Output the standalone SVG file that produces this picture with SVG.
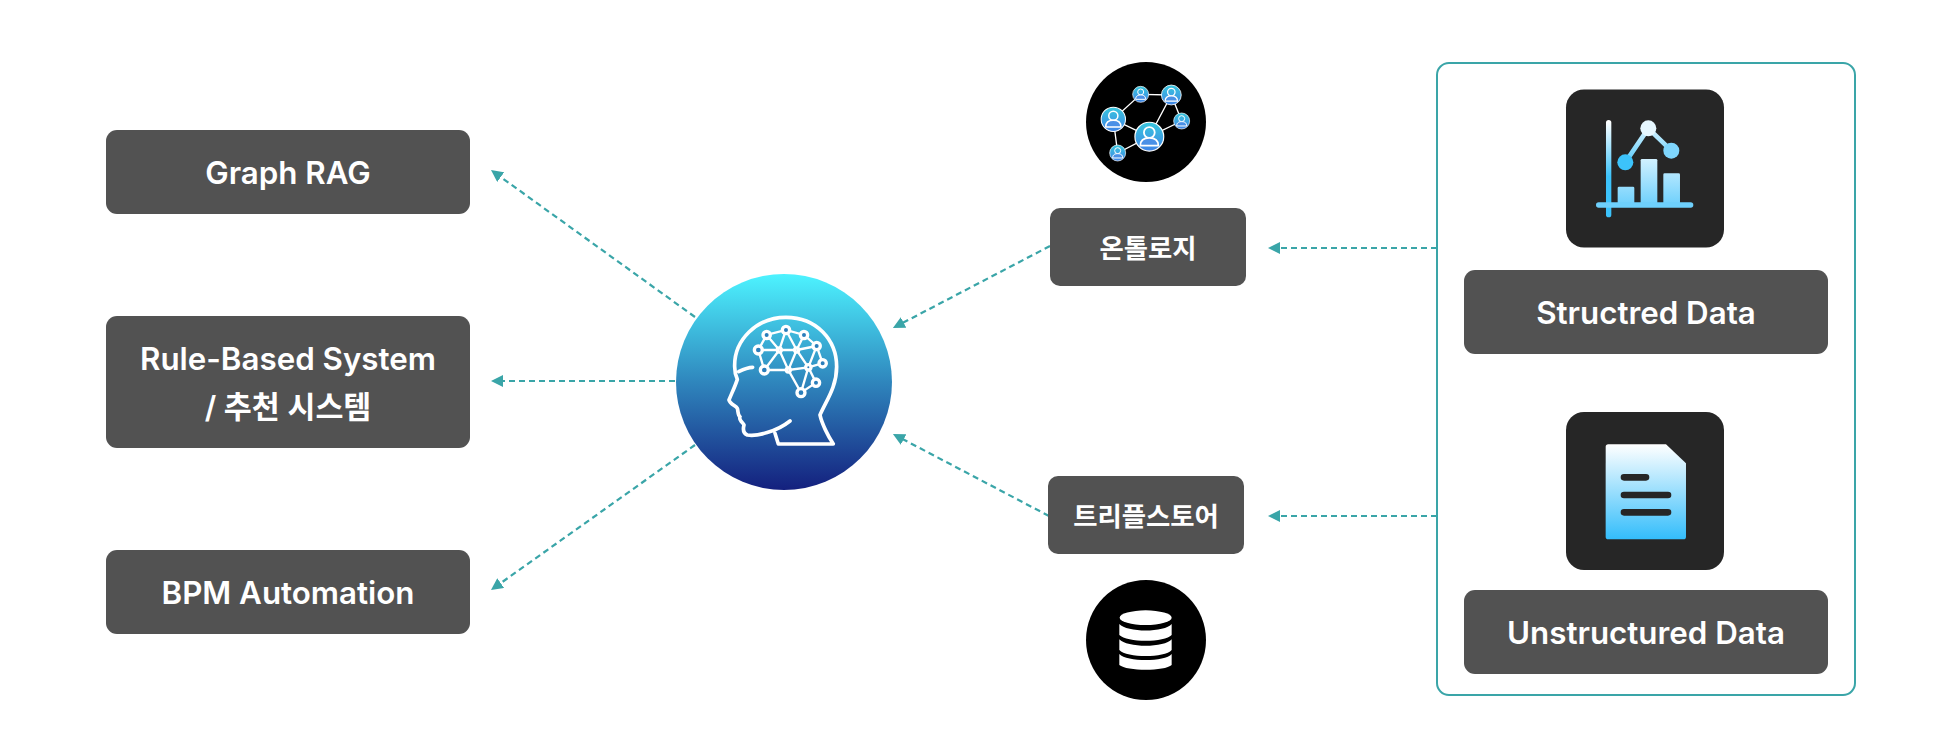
<svg xmlns="http://www.w3.org/2000/svg" xmlns:xlink="http://www.w3.org/1999/xlink" width="1960" height="730" viewBox="0 0 1960 730">
<style>
.box{fill:#525252}
.tile{fill:#262626}
.lbl{font-family:"Inter","Noto Sans CJK KR","Noto Sans",sans-serif;font-weight:600;font-size:31.3px;fill:#fff;text-anchor:middle}
.ko{font-family:"Noto Sans CJK KR","Inter",sans-serif;font-weight:600;font-size:26.4px;fill:#fff;text-anchor:middle}
.conn{fill:none;stroke:#3aa5a8;stroke-width:2.2;stroke-dasharray:6 4}
.head{fill:none;stroke:#fff;stroke-width:11;stroke-linecap:round;stroke-linejoin:round}
.edge{fill:none;stroke:#fff;stroke-width:7;stroke-linecap:round}
.node{fill:#2a7ebb;stroke:#fff;stroke-width:10}
.net{stroke:#fff;stroke-width:4;fill:none}
.docline{fill:none;stroke:#262626;stroke-width:20;stroke-linecap:round}
</style>
<defs>
<linearGradient id="gc" x1="0" y1="0" x2="0" y2="1"><stop offset="0" stop-color="#4df3ff"/><stop offset=".5" stop-color="#2f86bd"/><stop offset="1" stop-color="#14207e"/></linearGradient>
<linearGradient id="gp" x1="0" y1="0" x2="0" y2="1"><stop offset="0" stop-color="#38c8de"/><stop offset="1" stop-color="#3f83e6"/></linearGradient>
<linearGradient id="gw" gradientUnits="userSpaceOnUse" x1="0" y1="125" x2="0" y2="290"><stop offset="0" stop-color="#fff"/><stop offset="1" stop-color="#3cc3fb"/></linearGradient>
<linearGradient id="gb" gradientUnits="userSpaceOnUse" x1="0" y1="235" x2="0" y2="375"><stop offset="0" stop-color="#d2f1ff"/><stop offset="1" stop-color="#6ed0fc"/></linearGradient>
<linearGradient id="gl" gradientUnits="userSpaceOnUse" x1="0" y1="120" x2="0" y2="270"><stop offset="0" stop-color="#f4fbff"/><stop offset="1" stop-color="#3cc3fb"/></linearGradient>
<linearGradient id="gd" x1="0" y1="0" x2="0" y2="1"><stop offset="0" stop-color="#fff"/><stop offset="1" stop-color="#33bdfb"/></linearGradient>
<marker id="arr" markerUnits="userSpaceOnUse" markerWidth="12" markerHeight="12" refX="4" refY="6" orient="auto"><path d="M0,0L12,6L0,12Z" fill="#3aa5a8"/></marker>
<symbol id="person" viewBox="-50 -50 100 100" overflow="visible">
<circle r="48" fill="url(#gp)" stroke="#fff" stroke-width="4"/>
<circle cy="-14" r="18" fill="none" stroke="#fff" stroke-width="6"/>
<path d="M-30,30C-30,8 -14,4 0,4C14,4 30,8 30,30Z" fill="#4a90e6" stroke="#fff" stroke-width="6" stroke-linejoin="round"/>
</symbol>
</defs>
<rect width="1960" height="730" fill="#fff"/>

<g id="connectors">
<line class="conn" x1="695" y1="317" x2="497.5" y2="174.7" marker-end="url(#arr)"/>
<line class="conn" x1="675" y1="381" x2="499" y2="381" marker-end="url(#arr)"/>
<line class="conn" x1="695" y1="445" x2="497.5" y2="585.4" marker-end="url(#arr)"/>
<line class="conn" x1="1050" y1="246" x2="900" y2="324.3" marker-end="url(#arr)"/>
<line class="conn" x1="1049" y1="516" x2="900" y2="437.7" marker-end="url(#arr)"/>
<line class="conn" x1="1437" y1="248" x2="1276" y2="248" marker-end="url(#arr)"/>
<line class="conn" x1="1437" y1="516" x2="1276" y2="516" marker-end="url(#arr)"/>
</g>

<g id="node-graph-rag"><rect class="box" x="106" y="130" width="364" height="84" rx="11"/><text class="lbl" x="288" y="183.500">Graph RAG</text></g>
<g id="node-rule-based"><rect class="box" x="106" y="316" width="364" height="132" rx="11"/><text class="lbl" x="288" y="370">Rule-Based System</text><text class="lbl" style="font-size:30.4px" x="288" y="418">/ 추천 시스템</text></g>
<g id="node-bpm"><rect class="box" x="106" y="550" width="364" height="84" rx="11"/><text class="lbl" x="288" y="603.500">BPM Automation</text></g>

<g id="node-ai">
<circle cx="784" cy="382" r="108" fill="url(#gc)"/>
<g transform="translate(660 260) scale(.3333)">
<path class="head" d="M345,520L355,552H520C505,530 485,490 480,465C500,420 530,380 530,320C530,240 470,172 378,172C290,172 222,240 224,320C224,335 226,345 232,358C225,380 215,400 207,420C210,432 228,438 232,445C235,455 233,465 240,470C235,478 250,490 252,495C248,510 250,520 262,525C290,530 350,515 390,483"/>
<path class="head" d="M236,335C250,328 262,322 278,322"/>
<path class="edge" d="M320,225L378,210L432,225L470,258L488,310L445,322L468,368L423,398L385,330L313,330L295,270L320,225M358,270L320,225M358,270L378,210M358,270L295,270M358,270L410,270M358,270L313,330M378,210L410,270M432,225L410,270M410,270L470,258M410,270L445,322M410,270L385,330M358,270L385,330M470,258L445,322M423,398L445,322M385,330L445,322M295,270L313,330"/>
<g class="node"><circle cx="320" cy="225" r="11"/><circle cx="378" cy="210" r="11"/><circle cx="432" cy="225" r="11"/><circle cx="470" cy="258" r="11"/><circle cx="488" cy="310" r="11"/><circle cx="445" cy="322" r="8"/><circle cx="468" cy="368" r="11"/><circle cx="423" cy="398" r="12"/><circle cx="385" cy="330" r="6"/><circle cx="410" cy="270" r="6"/><circle cx="358" cy="270" r="6"/><circle cx="295" cy="270" r="12"/><circle cx="313" cy="330" r="12"/></g>
</g>
</g>

<g id="node-ontology-icon">
<circle cx="1146" cy="122" r="60" fill="#000"/>
<g transform="translate(1070 50) scale(.3333)">
<path class="net" d="M130,208L212,133L304,135L335,213L238,260L143,309L130,208L238,260L304,135"/>
<use href="#person" xlink:href="#person" x="92" y="170" width="76" height="76"/>
<use href="#person" xlink:href="#person" x="187" y="108" width="50" height="50"/>
<use href="#person" xlink:href="#person" x="273" y="104" width="62" height="62"/>
<use href="#person" xlink:href="#person" x="310" y="188" width="50" height="50"/>
<use href="#person" xlink:href="#person" x="193" y="215" width="90" height="90"/>
<use href="#person" xlink:href="#person" x="118" y="284" width="50" height="50"/>
</g>
</g>
<g id="node-ontology"><rect class="box" x="1050" y="208" width="196" height="78" rx="10"/><text class="ko" x="1148" y="257.500">온톨로지</text></g>

<g id="node-triple"><rect class="box" x="1048" y="476" width="196" height="78" rx="10"/><text class="ko" x="1146" y="525.500">트리플스토어</text></g>
<g id="node-triple-icon">
<circle cx="1146" cy="640" r="60" fill="#000"/>
<g transform="translate(1070 570) scale(.3333)" fill="#fff">
<ellipse cx="227" cy="143" rx="78" ry="22"/>
<path d="M148,162C170,188 285,188 305,162V195C285,218 170,218 148,195Z"/>
<path d="M148,208C170,234 285,234 305,208V240C285,264 170,264 148,240Z"/>
<path d="M148,252C170,276 285,276 305,252V285C285,304 170,304 148,285Z"/>
</g>
</g>

<g id="panel"><rect x="1437" y="63" width="418" height="632" rx="12" fill="#fff" stroke="#3aa5a8" stroke-width="2"/></g>

<g id="node-structured">
<rect class="tile" x="1566" y="89.500" width="158" height="158" rx="18"/>
<g transform="translate(1550 80) scale(.3333)">
<rect x="168" y="120" width="16" height="292" rx="8" fill="url(#gw)"/>
<path d="M226,247L295,145L364,212" fill="none" stroke="url(#gl)" stroke-width="14"/>
<circle cx="226" cy="247" r="24" fill="#3cc3fb"/><circle cx="295" cy="145" r="24" fill="#e6f7ff"/><circle cx="364" cy="212" r="24" fill="#7fd6fd"/>
<rect x="203" y="320" width="50" height="52" rx="4" fill="url(#gb)"/>
<rect x="272" y="237" width="50" height="135" rx="4" fill="url(#gb)"/>
<rect x="340" y="280" width="50" height="92" rx="4" fill="url(#gb)"/>
<rect x="138" y="367" width="292" height="16" rx="8" fill="#6ed0fc"/>
</g>
<rect class="box" x="1464" y="270" width="364" height="84" rx="11"/><text class="lbl" x="1646" y="323.500">Structred Data</text>
</g>

<g id="node-unstructured">
<rect class="tile" x="1566" y="412" width="158" height="158" rx="18"/>
<g transform="translate(1550 400) scale(.3333)">
<path d="M175,133H348L408,190V410Q408,418 400,418H175Q167,418 167,410V141Q167,133 175,133Z" fill="url(#gd)"/>
<path class="docline" d="M222,232H288M222,285H354M222,337H354"/>
</g>
<rect class="box" x="1464" y="590" width="364" height="84" rx="11"/><text class="lbl" x="1646" y="643.500">Unstructured Data</text>
</g>
</svg>
